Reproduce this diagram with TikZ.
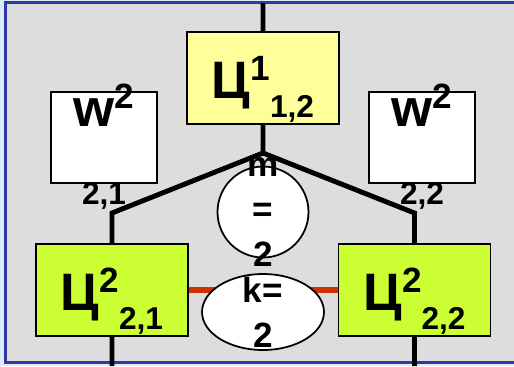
\documentclass[tikz,border=0pt]{standalone}
\usepackage{fontspec}
\setmainfont{Liberation Sans}
\usepackage{tikz}
\usetikzlibrary{shapes.geometric}

\definecolor{outerBlue}{HTML}{D6EEF4}
\definecolor{frameBlue}{HTML}{3636A8}
\definecolor{paneGray}{HTML}{DDDDDD}
\definecolor{cellYellow}{HTML}{FFFF99}
\definecolor{cellGreen}{HTML}{CCFF33}
\definecolor{linkRed}{HTML}{CC3300}

% Ц with raised level and lowered index
\newcommand{\cel}[2]{{\fontsize{30}{32}\selectfont Ц}\raisebox{10pt}{\fontsize{20}{22}\selectfont #1}\raisebox{-10.8pt}{\fontsize{18}{20}\selectfont #2}}
\newcommand{\wsup}[1]{{\fontsize{30}{32}\selectfont w}\raisebox{10pt}{\fontsize{20}{22}\selectfont #1}}

\begin{document}
\begin{tikzpicture}[x=0.02cm, y=-0.02cm, font=\bfseries,
      cell/.style={rectangle, draw=black, line width=1pt, minimum width=3.04cm, minimum height=1.84cm, text height=24pt, text depth=1pt, inner sep=0pt},
      wbox/.style={rectangle, draw=black, fill=white, line width=1pt, minimum width=2.12cm, minimum height=1.82cm},
      wsub/.style={anchor=base, yshift=-11.5pt, font=\fontsize{18}{20}\selectfont\bfseries},
      wtop/.style={anchor=base, yshift=-20pt},
      wire/.style={line width=2.8pt},
      link/.style={draw=linkRed, line width=3.4pt},
      tag/.style={draw=black, fill=white, line width=1pt},
      tagtext/.style={align=center, font=\fontsize{20}{25.5}\selectfont\bfseries}]
    \useasboundingbox (0,0) rectangle (514,366);
    \fill[outerBlue] (0,0) rectangle (514,366);
    \draw[draw=frameBlue, fill=paneGray, line width=1.2pt] (5.5,2.5) rectangle (530,362.5);

    \node[cell, fill=cellYellow] (c12) at (263,78) {\cel{1}{1,2}};
    \node[cell, fill=cellGreen] (c21) at (112,290) {\cel{2}{2,1}};
    \node[cell, fill=cellGreen] (c22) at (414.5,290) {\cel{2}{2,2}};
    \node[wbox, label={[wtop]north:\wsup{2}}, label={[wsub]south:2,1}] (w21) at (104,137.5) {};
    \node[wbox, label={[wtop]north:\wsup{2}}, label={[wsub]south:2,2}] (w22) at (422,137.5) {};

    \coordinate (top) at (263,3);
    \coordinate (j) at (263,153);
    \coordinate (bl) at (112,213);
    \coordinate (br) at (414.5,213);
    \coordinate (bl2) at (112,366);
    \coordinate (br2) at (414.5,366);

    \draw[wire] (top) -- (c12.north) (c12.south) -- (j) -- (bl) -- (c21.north)
      (j) -- (br) -- (c22.north) (c21.south) -- (bl2) (c22.south) -- (br2);
    \draw[link] (c21.east) -- (c22.west);

    \node[tag, circle, minimum size=1.82cm, label={[tagtext]center:m\\=\\2}] (m) at (263,212) {};
    \node[tag, ellipse, minimum width=2.44cm, minimum height=1.52cm, label={[tagtext]center:k=\\2}] (k) at (263,312) {};
\end{tikzpicture}
\end{document}
